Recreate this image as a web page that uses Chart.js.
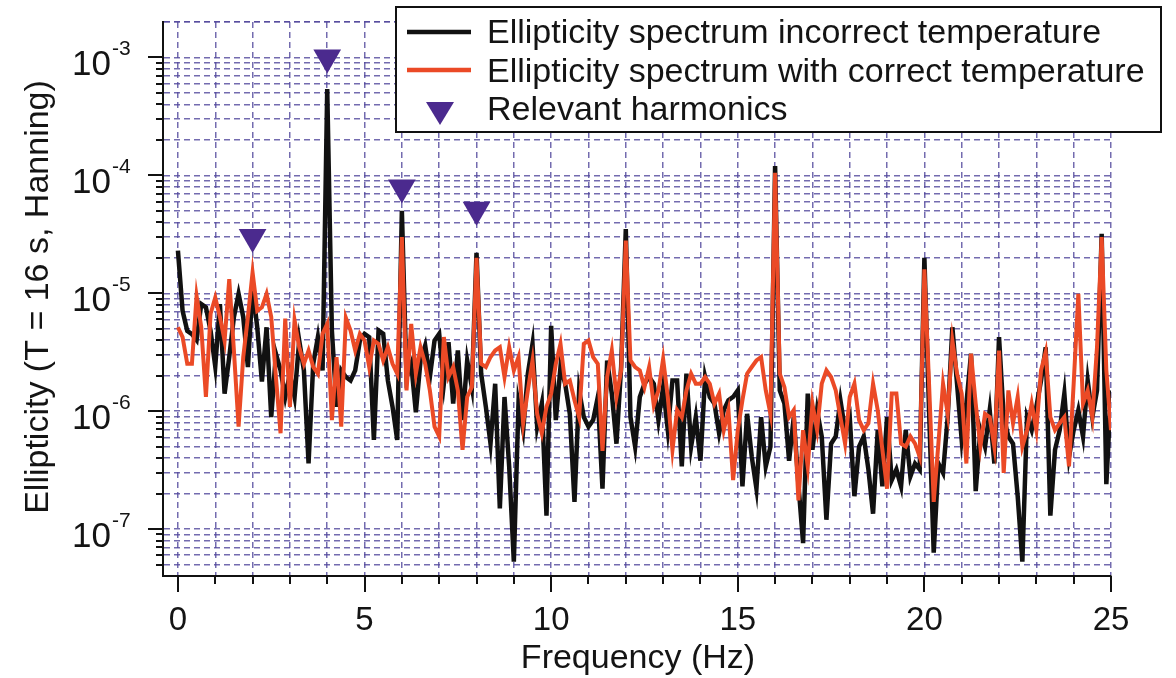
<!DOCTYPE html>
<html lang="en">
<head>
    <meta charset="UTF-8">
    <title>Ellipticity spectrum</title>
    <script src="https://cdn.jsdelivr.net/npm/chart.js"></script>
    <style>
        body { margin: 0; background: #fff; }
    </style>
</head>
<body>
    <canvas id="grafico" width="1176" height="678"></canvas>

    <script>
        // frequency bins (Hz), 1/8 Hz apart
        const freqs = [
            0, 0.125, 0.25, 0.375, 0.5, 0.625, 0.75, 0.875,
            1, 1.125, 1.25, 1.375, 1.5, 1.625, 1.75, 1.875,
            2, 2.125, 2.25, 2.375, 2.5, 2.625, 2.75, 2.875,
            3, 3.125, 3.25, 3.375, 3.5, 3.625, 3.75, 3.875,
            4, 4.125, 4.25, 4.375, 4.5, 4.625, 4.75, 4.875,
            5, 5.125, 5.25, 5.375, 5.5, 5.625, 5.75, 5.875,
            6, 6.125, 6.25, 6.375, 6.5, 6.625, 6.75, 6.875,
            7, 7.125, 7.25, 7.375, 7.5, 7.625, 7.75, 7.875,
            8, 8.125, 8.25, 8.375, 8.5, 8.625, 8.75, 8.875,
            9, 9.125, 9.25, 9.375, 9.5, 9.625, 9.75, 9.875,
            10, 10.125, 10.25, 10.375, 10.5, 10.625, 10.75, 10.875,
            11, 11.125, 11.25, 11.375, 11.5, 11.625, 11.75, 11.875,
            12, 12.125, 12.25, 12.375, 12.5, 12.625, 12.75, 12.875,
            13, 13.125, 13.25, 13.375, 13.5, 13.625, 13.75, 13.875,
            14, 14.125, 14.25, 14.375, 14.5, 14.625, 14.75, 14.875,
            15, 15.125, 15.25, 15.375, 15.5, 15.625, 15.75, 15.875,
            16, 16.125, 16.25, 16.375, 16.5, 16.625, 16.75, 16.875,
            17, 17.125, 17.25, 17.375, 17.5, 17.625, 17.75, 17.875,
            18, 18.125, 18.25, 18.375, 18.5, 18.625, 18.75, 18.875,
            19, 19.125, 19.25, 19.375, 19.5, 19.625, 19.75, 19.875,
            20, 20.125, 20.25, 20.375, 20.5, 20.625, 20.75, 20.875,
            21, 21.125, 21.25, 21.375, 21.5, 21.625, 21.75, 21.875,
            22, 22.125, 22.25, 22.375, 22.5, 22.625, 22.75, 22.875,
            23, 23.125, 23.25, 23.375, 23.5, 23.625, 23.75, 23.875,
            24, 24.125, 24.25, 24.375, 24.5, 24.625, 24.75, 24.875,
            25
        ];

        // ellipticity, wrong temperature (black)
        const incorrectTemp = [
            2.3e-5, 7.1e-6, 4.8e-6, 4.5e-6, 4.0e-6, 8.1e-6, 7.6e-6, 4.8e-6,
            2.4e-6, 8.1e-6, 1.41e-6, 2.88e-6, 6.3e-6, 9.9e-6, 6.3e-6, 2.37e-6,
            1.12e-5, 5.15e-6, 1.78e-6, 5.15e-6, 8.9e-7, 3.07e-6, 2.22e-6, 1.32e-6,
            2.08e-6, 1.32e-6, 3.97e-6, 2.22e-6, 3.6e-7, 2.52e-6, 4.25e-6, 2.22e-6,
            5.4e-4, 4.83e-6, 1.09e-6, 2.22e-6, 1.95e-6, 1.82e-6, 2.22e-6, 3.97e-6,
            4.53e-6, 4.25e-6, 5.7e-7, 4.83e-6, 4.53e-6, 1.82e-6, 1.09e-6, 5.7e-7,
            5.0e-5, 1.95e-6, 2.52e-6, 9.8e-7, 2.69e-6, 3.6e-6, 1.95e-6, 3.97e-6,
            4.53e-6, 1.71e-6, 3.85e-6, 1.16e-6, 3.27e-6, 8.4e-7, 2.69e-6, 1.6e-6,
            2.2e-5, 2.08e-6, 1.09e-6, 5.3e-7, 1.71e-6, 1.5e-7, 1.32e-6, 3.4e-7,
            5.3e-8, 1.16e-6, 6.9e-7, 2.08e-6, 3.72e-6, 7.4e-7, 1.16e-6, 1.3e-7,
            5.3e-6, 8.4e-7, 2.37e-6, 1.71e-6, 9.5e-7, 1.7e-7, 1.5e-6, 8.9e-7,
            7.4e-7, 8.4e-7, 1.32e-6, 2.2e-7, 2.69e-6, 1.41e-6, 5.3e-7, 2.37e-6,
            3.5e-5, 8.9e-7, 5.0e-7, 1.32e-6, 1.71e-6, 1.95e-6, 1.71e-6, 8.4e-7,
            1.6e-6, 6.9e-7, 1.82e-6, 1.82e-6, 3.4e-7, 2.08e-6, 5.0e-7, 8.9e-7,
            3.8e-7, 1.95e-6, 1.32e-6, 1.16e-6, 6.5e-7, 1.02e-6, 1.24e-6, 1.32e-6,
            1.5e-6, 2.3e-7, 9.5e-7, 4.1e-7, 2.2e-7, 8.9e-7, 3.4e-7, 5.0e-7,
            1.2e-4, 1.5e-6, 1.16e-6, 3.8e-7, 8.9e-7, 2.4e-7, 7.6e-8, 1.41e-6,
            4.7e-7, 1.02e-6, 6.1e-7, 1.2e-7, 5.3e-7, 6.1e-7, 1.24e-6, 6.9e-7,
            8.9e-7, 1.9e-7, 5.0e-7, 6.1e-7, 3.2e-7, 1.35e-7, 6.9e-7, 2.3e-7,
            8.9e-7, 2.6e-7, 3.2e-7, 2.3e-7, 6.9e-7, 2.8e-7, 3.6e-7, 3.2e-7,
            2.0e-5, 1.02e-6, 6.3e-8, 3.6e-7, 3.0e-7, 8.9e-7, 5.15e-6, 1.71e-6,
            5.7e-7, 1.16e-6, 3.07e-6, 2.1e-7, 6.9e-7, 5.0e-7, 1.02e-6, 3.6e-7,
            4.25e-6, 8.9e-7, 6.1e-7, 5.3e-7, 1.9e-7, 5.3e-8, 8.9e-7, 6.9e-7,
            1.09e-6, 1.82e-6, 3.49e-6, 1.3e-7, 4.7e-7, 6.9e-7, 1.41e-6, 4.1e-7,
            6.9e-7, 1.02e-6, 6.1e-7, 1.82e-6, 8.9e-7, 1.5e-6, 3.2e-5, 2.4e-7,
            1.5e-6
        ];

        // ellipticity, corrected temperature (red)
        const correctTemp = [
            5.15e-6, 4.25e-6, 2.52e-6, 2.52e-6, 9.5e-6, 5.15e-6, 1.32e-6, 6.7e-6,
            9.2e-6, 6.3e-6, 3.97e-6, 1.32e-5, 3.27e-6, 7.4e-7, 2.88e-6, 6.3e-6,
            1.5e-5, 7.1e-6, 7.6e-6, 9.9e-6, 6.3e-6, 1.95e-6, 6.5e-7, 6.1e-6,
            1.09e-6, 5.9e-6, 3.49e-6, 2.52e-6, 3.27e-6, 2.37e-6, 2.08e-6, 4.53e-6,
            5.5e-6, 8.4e-7, 2.88e-6, 7.4e-7, 6.2e-6, 4.83e-6, 3.27e-6, 4.53e-6,
            3.97e-6, 2.37e-6, 3.97e-6, 3.72e-6, 2.69e-6, 3.49e-6, 2.52e-6, 2.08e-6,
            3.0e-5, 1.5e-6, 5.5e-6, 2.08e-6, 3.49e-6, 2.52e-6, 1.5e-6, 7.4e-7,
            6.1e-7, 4.25e-6, 1.95e-6, 2.37e-6, 1.5e-6, 4.7e-7, 1.32e-6, 1.6e-6,
            2.0e-5, 2.52e-6, 2.37e-6, 2.88e-6, 3.27e-6, 3.49e-6, 1.95e-6, 3.49e-6,
            2.22e-6, 2.88e-6, 7.9e-7, 1.5e-6, 2.69e-6, 9.5e-7, 6.5e-7, 1.09e-6,
            1.41e-6, 2.52e-6, 3.72e-6, 1.71e-6, 1.82e-6, 1.24e-6, 8.9e-7, 3.72e-6,
            3.97e-6, 2.88e-6, 2.52e-6, 4.6e-7, 1.95e-6, 3.27e-6, 1.32e-6, 2.22e-6,
            2.8e-5, 2.69e-6, 2.37e-6, 2.22e-6, 1.6e-6, 2.37e-6, 1.12e-6, 1.5e-6,
            2.78e-6, 1.32e-6, 4.7e-7, 1.02e-6, 8.9e-7, 1.5e-6, 2.08e-6, 1.71e-6,
            1.71e-6, 1.95e-6, 1.71e-6, 1.16e-6, 1.41e-6, 6.9e-7, 1.02e-6, 2.6e-7,
            6.9e-7, 1.24e-6, 2.08e-6, 2.37e-6, 2.69e-6, 2.88e-6, 1.5e-6, 9.5e-7,
            1.05e-4, 2.08e-6, 1.6e-6, 8.9e-7, 1.02e-6, 1.75e-7, 6.9e-7, 3.4e-7,
            1.16e-6, 6.9e-7, 1.71e-6, 2.22e-6, 1.95e-6, 1.5e-6, 8.9e-7, 5.3e-7,
            1.32e-6, 1.71e-6, 8.4e-7, 6.9e-7, 7.9e-7, 1.71e-6, 1.02e-6, 4.7e-7,
            2.2e-7, 1.41e-6, 1.41e-6, 5.3e-7, 5.0e-7, 6.1e-7, 5.3e-7, 4.1e-7,
            1.6e-5, 1.71e-6, 1.7e-7, 5.3e-7, 1.71e-6, 9.5e-7, 3.97e-6, 2.08e-6,
            1.41e-6, 3.6e-7, 3.07e-6, 1.16e-6, 5.0e-7, 9.5e-7, 8.9e-7, 5.0e-7,
            3.27e-6, 3.0e-7, 1.5e-6, 7.9e-7, 1.32e-6, 5.0e-7, 6.9e-7, 1.16e-6,
            6.9e-7, 2.22e-6, 3.17e-6, 8.9e-7, 6.9e-7, 7.9e-7, 8.9e-7, 3.4e-7,
            1.71e-6, 9.9e-6, 1.16e-6, 1.5e-6, 8.9e-7, 3.5e-6, 3.0e-5, 2.22e-6,
            6.9e-7
        ];

        // relevant harmonics markers
        const harmonicFreqs = [2, 4, 6, 8];
        const harmonicLevels = [3.0e-5, 1.0e-3, 7.9e-5, 5.1e-5];

        // axis ticks
        const xTickValues = [0, 1, 2, 3, 4, 5, 6, 7, 8, 9, 10, 11, 12, 13, 14, 15, 16, 17, 18, 19, 20, 21, 22, 23, 24, 25];
        const xTickLabels = [0, 5, 10, 15, 20, 25];
        const yDecades = [-7, -6, -5, -4, -3];
        const yMantissas = [1, 2, 3, 4, 5, 6, 7, 8, 9];

        const legendLabels = [
            'Ellipticity spectrum incorrect temperature',
            'Ellipticity spectrum with correct temperature',
            'Relevant harmonics'
        ];

        const FONT = '"Liberation Sans", Arial, sans-serif';
        const GRID = 'rgba(80, 70, 155, 0.8)';
        const RED = '#eb4a26';
        const PURPLE = '#4b2a8e';

        const Y_MIN = 4e-8, Y_MAX = 2e-3;
        const yGridValues = [];
        [-8].concat(yDecades).forEach(e => {
            yMantissas.forEach(m => {
                const v = m * Math.pow(10, e);
                if (v > Y_MIN * 1.01 && v <= Y_MAX * 1.001) yGridValues.push(v);
            });
        });
        yGridValues.push(Y_MAX);

        const axisDecor = {
            id: 'axisDecor',
            afterDraw(chart) {
                const { ctx, chartArea: a, scales: { x, y } } = chart;
                ctx.save();
                ctx.strokeStyle = '#111';
                ctx.lineWidth = 2;

                // tick marks
                ctx.beginPath();
                xTickValues.forEach(v => {
                    const px = Math.round(x.getPixelForValue(v));
                    const len = v % 5 === 0 ? 16 : 8;
                    ctx.moveTo(px, a.bottom);
                    ctx.lineTo(px, a.bottom + len);
                });
                yGridValues.forEach(v => {
                    if (v >= Y_MAX * 0.999) return;
                    const py = Math.round(y.getPixelForValue(v));
                    const m = v / Math.pow(10, Math.floor(Math.log10(v) + 1e-9));
                    const len = Math.abs(m - 1) < 1e-6 ? 15 : 7;
                    ctx.moveTo(a.left - len, py);
                    ctx.lineTo(a.left, py);
                });
                ctx.stroke();

                // tick labels
                ctx.fillStyle = '#141414';
                ctx.textBaseline = 'alphabetic';
                ctx.font = '33px ' + FONT;
                ctx.textAlign = 'center';
                xTickLabels.forEach(v => ctx.fillText(String(v), x.getPixelForValue(v), 630));

                yDecades.forEach(e => {
                    const py = y.getPixelForValue(Math.pow(10, e));
                    ctx.font = '35px ' + FONT;
                    ctx.textAlign = 'right';
                    ctx.fillText('10', 111, py + 18);
                    ctx.font = '21px ' + FONT;
                    ctx.textAlign = 'left';
                    ctx.fillText(String(e), 112, py - 2);
                });

                // axis titles
                ctx.font = '34px ' + FONT;
                ctx.textAlign = 'center';
                ctx.fillText('Frequency (Hz)', 638, 668);
                ctx.save();
                ctx.translate(48, 297);
                ctx.rotate(-Math.PI / 2);
                ctx.fillText('Ellipticity (T = 16 s, Hanning)', 0, 0);
                ctx.restore();

                // legend
                const bx = 396, by = 7, bw = 765, bh = 125;
                ctx.fillStyle = '#fff';
                ctx.fillRect(bx, by, bw, bh);
                ctx.lineWidth = 2;
                ctx.strokeStyle = '#111';
                ctx.strokeRect(bx, by, bw, bh);

                ctx.lineWidth = 4.5;
                ctx.beginPath();
                ctx.moveTo(407, 32); ctx.lineTo(471, 32);
                ctx.stroke();
                ctx.strokeStyle = RED;
                ctx.beginPath();
                ctx.moveTo(407, 70); ctx.lineTo(471, 70);
                ctx.stroke();

                ctx.fillStyle = PURPLE;
                ctx.beginPath();
                ctx.moveTo(426, 102); ctx.lineTo(454, 102); ctx.lineTo(440, 125);
                ctx.closePath();
                ctx.fill();

                ctx.fillStyle = '#141414';
                ctx.font = '34px ' + FONT;
                ctx.textAlign = 'left';
                ctx.fillText(legendLabels[0], 487, 43);
                ctx.fillText(legendLabels[1], 487, 82);
                ctx.fillText(legendLabels[2], 487, 120);

                ctx.restore();
            }
        };

        const ctx = document.getElementById('grafico').getContext('2d');
        new Chart(ctx, {
            type: 'line',
            data: {
                datasets: [
                    {
                        label: legendLabels[0],
                        data: freqs.map((f, i) => ({ x: f, y: incorrectTemp[i] })),
                        borderColor: '#111',
                        borderWidth: 4.5,
                        pointRadius: 0,
                        tension: 0,
                        order: 2
                    },
                    {
                        label: legendLabels[1],
                        data: freqs.map((f, i) => ({ x: f, y: correctTemp[i] })),
                        borderColor: RED,
                        borderWidth: 4,
                        pointRadius: 0,
                        tension: 0,
                        order: 1
                    },
                    {
                        label: legendLabels[2],
                        data: harmonicFreqs.map((f, i) => ({ x: f, y: harmonicLevels[i] })),
                        showLine: false,
                        pointStyle: 'triangle',
                        pointRotation: 180,
                        pointRadius: 16,
                        pointBackgroundColor: PURPLE,
                        pointBorderWidth: 0,
                        order: 0
                    }
                ]
            },
            options: {
                responsive: false,
                animation: false,
                layout: { padding: { top: 22, right: 65, left: 0, bottom: 0 } },
                plugins: {
                    legend: { display: false },
                    tooltip: { enabled: false }
                },
                scales: {
                    x: {
                        type: 'linear',
                        min: -0.4,
                        max: 25,
                        afterBuildTicks: s => { s.ticks = xTickValues.map(v => ({ value: v })); },
                        afterFit: s => { s.height = 102; },
                        ticks: { display: false },
                        grid: { color: GRID, lineWidth: 1.5, drawTicks: false },
                        border: { display: true, color: '#111', width: 2, dash: [6, 4] }
                    },
                    y: {
                        type: 'logarithmic',
                        min: Y_MIN,
                        max: Y_MAX,
                        afterBuildTicks: s => { s.ticks = yGridValues.map(v => ({ value: v })); },
                        afterFit: s => { s.width = 163; },
                        ticks: { display: false },
                        grid: { color: GRID, lineWidth: 1.5, drawTicks: false },
                        border: { display: true, color: '#111', width: 2, dash: [6, 4] }
                    }
                }
            },
            plugins: [axisDecor]
        });
    </script>
</body>
</html>
